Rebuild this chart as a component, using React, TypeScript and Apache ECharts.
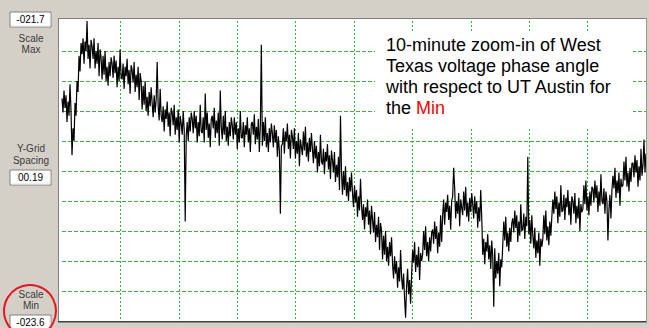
import React, { useEffect, useRef } from "react";
import * as echarts from "echarts";

// West Texas voltage phase angle relative to UT Austin (degrees), 10-minute window
const phaseAngle = [
  -22.19, -22.28, -22.14, -22.25, -22.17, -22.34, -22.21, -22.30, -22.10, -22.27,
  -22.55, -22.38, -22.46, -22.22, -22.30, -22.08, -22.15, -21.92, -22.02, -21.84,
  -21.91, -21.81, -21.97, -21.83, -21.89, -21.70, -21.94, -21.85, -22.00, -21.82,
  -21.86, -21.94, -21.81, -22.00, -21.89, -21.97, -21.84, -22.05, -21.88, -21.93,
  -22.07, -21.92, -22.04, -21.89, -22.08, -21.99, -22.11, -21.96, -22.05, -21.93,
  -21.97, -22.06, -21.92, -22.03, -21.95, -22.12, -21.99, -22.08, -21.88, -22.05,
  -22.07, -21.97, -22.13, -21.99, -22.05, -21.94, -22.10, -22.01, -22.16, -21.98,
  -22.01, -22.09, -21.96, -22.15, -22.04, -22.12, -21.99, -22.20, -22.03, -22.08,
  -22.26, -22.11, -22.23, -22.08, -22.27, -22.18, -22.30, -22.15, -22.24, -22.12,
  -22.22, -22.31, -22.17, -22.28, -22.20, -21.96, -22.24, -22.33, -22.13, -22.30,
  -22.34, -22.24, -22.40, -22.26, -22.32, -22.21, -22.37, -22.28, -22.43, -22.25,
  -22.28, -22.36, -22.23, -22.42, -22.31, -22.39, -22.26, -22.47, -22.30, -22.35,
  -22.42, -22.27, -22.39, -22.97, -22.43, -22.34, -22.46, -22.31, -22.40, -22.28,
  -22.32, -22.41, -22.27, -22.38, -22.30, -22.47, -22.34, -22.43, -22.23, -22.40,
  -22.41, -22.31, -22.47, -22.16, -22.39, -22.28, -22.44, -22.35, -22.50, -22.32,
  -22.30, -22.38, -22.25, -22.44, -22.33, -22.41, -22.28, -22.49, -22.14, -22.37,
  -22.45, -22.30, -22.42, -22.27, -22.46, -22.37, -22.49, -22.34, -22.43, -22.31,
  -22.36, -22.45, -22.31, -22.42, -22.34, -22.51, -22.38, -22.47, -22.27, -22.44,
  -22.44, -22.34, -22.50, -22.36, -22.42, -22.31, -22.47, -22.38, -22.53, -22.35,
  -22.34, -22.42, -22.29, -22.48, -22.37, -22.45, -22.32, -22.53, -22.36, -21.85,
  -22.49, -22.34, -22.46, -22.31, -22.50, -22.41, -22.53, -22.38, -22.47, -22.35,
  -22.41, -22.50, -22.36, -22.47, -22.39, -22.56, -22.43, -22.52, -22.92, -22.49,
  -22.48, -22.38, -22.54, -22.40, -22.46, -22.35, -22.51, -22.42, -22.57, -22.39,
  -22.43, -22.51, -22.38, -22.57, -22.46, -22.54, -22.41, -22.62, -22.45, -22.50,
  -22.55, -22.40, -22.52, -22.37, -22.56, -22.47, -22.59, -22.44, -22.53, -22.41,
  -22.51, -22.60, -22.46, -22.57, -22.49, -22.66, -22.53, -22.62, -22.42, -22.59,
  -22.61, -22.51, -22.67, -22.53, -22.59, -22.48, -22.64, -22.55, -22.70, -22.52,
  -22.58, -22.66, -22.53, -22.72, -22.61, -22.69, -22.56, -22.77, -22.30, -22.65,
  -22.80, -22.65, -22.77, -22.62, -22.81, -22.72, -22.84, -22.69, -22.78, -22.66,
  -22.79, -22.88, -22.74, -22.85, -22.77, -22.94, -22.81, -22.90, -22.70, -22.87,
  -22.96, -22.86, -23.02, -22.88, -22.94, -22.83, -22.99, -22.90, -23.05, -22.87,
  -22.96, -23.04, -22.91, -23.10, -22.99, -23.07, -22.94, -23.15, -22.98, -23.03,
  -23.21, -23.06, -23.18, -23.03, -23.22, -23.13, -23.25, -23.10, -23.19, -23.07,
  -23.24, -23.33, -23.19, -23.30, -23.22, -23.39, -23.26, -23.35, -23.15, -23.32,
  -23.40, -23.30, -23.46, -23.58, -23.38, -23.27, -23.43, -23.34, -23.49, -23.31,
  -23.15, -23.23, -23.10, -23.29, -23.18, -23.26, -23.13, -23.34, -23.17, -23.22,
  -23.18, -23.03, -23.15, -23.00, -23.19, -23.10, -23.22, -23.07, -23.16, -23.04,
  -23.02, -23.11, -22.97, -23.08, -23.00, -23.17, -23.04, -23.13, -22.93, -23.10,
  -22.93, -22.83, -22.99, -22.85, -22.91, -22.80, -22.96, -22.87, -23.02, -22.84,
  -22.81, -22.63, -22.76, -22.95, -22.84, -22.92, -22.79, -23.00, -22.83, -22.88,
  -22.93, -22.78, -22.90, -22.75, -22.94, -22.85, -22.97, -22.82, -22.91, -22.79,
  -22.86, -22.95, -22.81, -22.92, -22.84, -23.01, -22.88, -22.97, -22.77, -22.94,
  -23.18, -23.08, -23.24, -23.10, -23.16, -23.05, -23.21, -23.12, -23.27, -23.09,
  -23.19, -23.51, -23.14, -23.33, -23.22, -23.30, -23.17, -23.38, -23.21, -23.26,
  -23.12, -22.97, -23.09, -22.94, -23.13, -23.04, -23.16, -23.01, -23.10, -22.98,
  -22.95, -23.04, -22.90, -23.01, -22.93, -23.10, -22.97, -23.06, -22.86, -23.03,
  -23.02, -22.92, -23.08, -22.94, -23.00, -22.56, -23.05, -22.96, -23.11, -22.93,
  -23.06, -23.14, -23.01, -23.20, -23.09, -23.17, -23.04, -23.25, -23.08, -23.13,
  -23.08, -22.93, -23.05, -22.90, -23.09, -23.00, -23.12, -22.97, -23.06, -22.94,
  -22.83, -22.92, -22.78, -22.89, -22.81, -22.98, -22.85, -22.94, -22.74, -22.91,
  -22.90, -22.80, -22.96, -22.82, -22.88, -22.77, -22.93, -22.84, -22.99, -22.81,
  -22.84, -22.92, -22.79, -22.98, -22.87, -22.95, -22.82, -23.03, -22.86, -22.91,
  -22.89, -22.74, -22.86, -22.71, -22.90, -22.81, -22.93, -22.78, -22.87, -22.75,
  -22.76, -22.85, -22.71, -22.82, -22.74, -22.91, -22.78, -22.87, -22.67, -22.84,
  -22.86, -22.76, -22.92, -22.78, -22.84, -23.09, -22.89, -22.80, -22.95, -22.77,
  -22.68, -22.76, -22.63, -22.82, -22.71, -22.79, -22.66, -22.87, -22.70, -22.75,
  -22.74, -22.59, -22.71, -22.56, -22.75, -22.66, -22.78, -22.63, -22.72, -22.60,
  -22.60, -22.69, -22.55, -22.66, -22.58, -22.75, -22.62, -22.71, -22.51, -22.68,
  -22.61, -22.45, -22.66, -22.54,
];

const windowSeconds = 600;
const timeGridStep = 60;
const scaleMax = -21.7;
const scaleMin = -23.6;
const yGridSpacing = 0.19;

const scaleMaxText = "-021.7";
const yGridSpacingText = "00.19";
const scaleMinText = "-023.6";
const noteLines = [
  "10-minute zoom-in of West",
  "Texas voltage phase angle",
  "with respect to UT Austin for",
];
const noteLastPrefix = "the ";
const noteHighlight = "Min";

const uiFont = '"Liberation Sans", Arial, sans-serif';
const gridGreen = "#3cb43c";

function valueBox(x: number, y: number, label: string) {
  return [
    {
      type: "rect",
      shape: { x, y, width: 41, height: 15 },
      style: { fill: "#ffffff", stroke: "#808080", lineWidth: 1 },
      z: 20,
    },
    {
      type: "polyline",
      shape: { points: [[x + 1, y + 14], [x + 40, y + 14], [x + 40, y + 1]] },
      style: { stroke: "#e4e4e4", lineWidth: 1, fill: "none" },
      z: 21,
    },
    {
      type: "text",
      x: x + 20.5,
      y: y + 7.5,
      style: {
        text: label,
        font: `10px ${uiFont}`,
        fill: "#000",
        textAlign: "center",
        textVerticalAlign: "middle",
      },
      z: 22,
    },
  ];
}

function caption(x: number, y: number, label: string) {
  return {
    type: "text",
    x,
    y,
    style: {
      text: label,
      font: `10px ${uiFont}`,
      fill: "#3a3a3a",
      textAlign: "center",
      textVerticalAlign: "middle",
    },
    z: 22,
  };
}

export default function App() {
  const ref = useRef<HTMLDivElement>(null);

  useEffect(() => {
    if (!ref.current) return;
    const chart = echarts.init(ref.current, undefined, { renderer: "svg" });
    const n = phaseAngle.length;
    const seriesData = phaseAngle.map((v, i) => [(i * windowSeconds) / (n - 1), v]);

    chart.setOption({
      animation: false,
      backgroundColor: "#d4d0c8",
      grid: {
        left: 62,
        top: 21,
        width: 584,
        height: 300,
        show: true,
        backgroundColor: "#ffffff",
        borderWidth: 0,
        containLabel: false,
      },
      xAxis: {
        type: "value",
        min: 0,
        max: windowSeconds,
        interval: timeGridStep,
        axisLine: { show: false },
        axisTick: { show: false },
        axisLabel: { show: false },
        splitLine: {
          show: true,
          showMinLine: false,
          showMaxLine: false,
          lineStyle: { color: gridGreen, width: 1, type: [2, 2] },
        },
      },
      yAxis: {
        type: "value",
        min: scaleMin,
        max: scaleMax,
        interval: yGridSpacing,
        axisLine: { show: false },
        axisTick: { show: false },
        axisLabel: { show: false },
        splitLine: {
          show: true,
          showMinLine: false,
          showMaxLine: false,
          lineStyle: { color: gridGreen, width: 1, type: [4, 2] },
        },
      },
      series: [
        {
          type: "line",
          data: seriesData,
          showSymbol: false,
          symbol: "none",
          lineStyle: { color: "#000000", width: 1.2 },
          silent: true,
          z: 5,
        },
      ],
      graphic: [
        // white margin inside the plot frame
        { type: "rect", shape: { x: 59, y: 19, width: 3, height: 302 }, style: { fill: "#fff" }, z: 1 },
        { type: "rect", shape: { x: 59, y: 19, width: 588, height: 2 }, style: { fill: "#fff" }, z: 1 },
        // sunken frame
        { type: "line", shape: { x1: 58, y1: 18.5, x2: 647, y2: 18.5 }, style: { stroke: "#808080", lineWidth: 1 }, z: 30 },
        { type: "line", shape: { x1: 58.5, y1: 18, x2: 58.5, y2: 323 }, style: { stroke: "#808080", lineWidth: 1 }, z: 30 },
        { type: "line", shape: { x1: 58, y1: 321.5, x2: 647, y2: 321.5 }, style: { stroke: "#404040", lineWidth: 1 }, z: 30 },
        { type: "line", shape: { x1: 58, y1: 322.5, x2: 647, y2: 322.5 }, style: { stroke: "#8a8a8a", lineWidth: 1 }, z: 30 },
        { type: "line", shape: { x1: 646.5, y1: 18, x2: 646.5, y2: 322 }, style: { stroke: "#9a9a9a", lineWidth: 1 }, z: 30 },

        // left control panel
        ...valueBox(10, 12, scaleMaxText),
        caption(31, 38, "Scale"),
        caption(31, 49, "Max"),
        caption(31, 148, "Y-Grid"),
        caption(31, 160, "Spacing"),
        ...valueBox(10, 170, yGridSpacingText),
        caption(31, 294, "Scale"),
        caption(31, 305, "Min"),
        ...valueBox(10, 315, scaleMinText),
        {
          type: "circle",
          shape: { cx: 30, cy: 311, r: 26 },
          style: { fill: "none", stroke: "#e8141e", lineWidth: 2 },
          z: 40,
        },

        // annotation
        {
          type: "rect",
          shape: { x: 375, y: 32, width: 258, height: 96 },
          style: { fill: "#ffffff" },
          z: 50,
        },
        {
          type: "text",
          x: 386,
          y: 34,
          style: {
            text: noteLines.join("\n") + "\n" + noteLastPrefix + "{hl|" + noteHighlight + "}",
            font: `18px ${uiFont}`,
            fill: "#000",
            lineHeight: 21,
            textAlign: "left",
            textVerticalAlign: "top",
            rich: {
              hl: { fill: "#ff0000", font: `18px ${uiFont}`, lineHeight: 21 },
            },
          },
          z: 51,
        },
      ],
    });

    return () => chart.dispose();
  }, []);

  return (
    <div
      ref={ref}
      style={{ position: "fixed", left: 0, top: 0, width: 649, height: 328 }}
    />
  );
}
